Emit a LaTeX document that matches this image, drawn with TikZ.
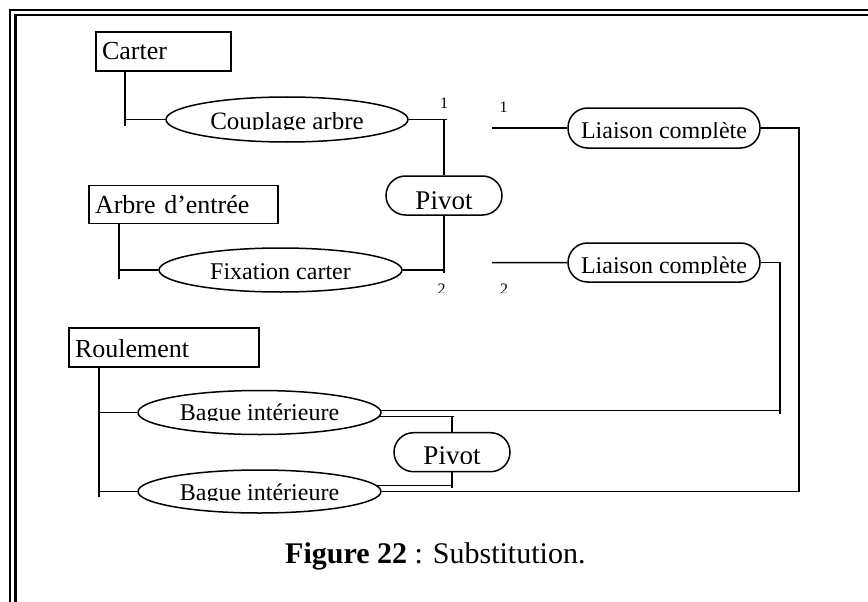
\documentclass[tikz,border=0pt]{standalone}
\usepackage{fontspec}
\setmainfont{Liberation Serif}
\usepackage{trimclip}
\usetikzlibrary{shapes.geometric}
% cut the descenders off a label, as the text boxes of the drawing do
\newcommand\cutdesc[1]{\clipbox{0pt {\depth} 0pt 0pt}{#1}}
% cut a label a little above its baseline
\newcommand\cutlow[1]{\clipbox{0pt 1.5pt 0pt 0pt}{#1}}
\newcommand\fs[1]{\fontsize{#1}{#1}\selectfont}

\begin{document}
\begin{tikzpicture}[x=1pt,y=-1pt,
  frame/.style={line width=2.4pt},
  wire/.style={line width=1.5pt},
  partbox/.style={rectangle, draw, line width=1.5pt, inner xsep=6pt, inner ysep=0pt,
                  align=left, text depth=0pt, font=\fs{26}},
  surf/.style={ellipse, draw, line width=1.5pt, inner sep=0pt, text depth=0pt, font=\fs{24}},
  link/.style={rectangle, rounded corners=19.5pt, draw, line width=1.5pt, inner sep=0pt,
               text depth=0pt, font=\fs{24}},
  num/.style={anchor=base, inner sep=0pt, font=\fs{16}}]

\useasboundingbox (0,0) rectangle (868,602);

% double frame, open at right and bottom
\draw[frame] (10,602) -- (10,10) -- (868,10);
\draw[frame] (15.3,602) -- (15.3,15.3) -- (868,15.3);

% parts
\node[partbox, minimum width=135pt, minimum height=39pt, text width=123pt, text height=17pt]
  (carter) at (163.5,51.5) {Carter};
\node[partbox, minimum width=189pt, minimum height=38pt, text width=177pt, text height=17pt]
  (arbre) at (183.5,204.5) {Arbre d’entrée};
\node[partbox, minimum width=190pt, minimum height=39pt, text width=178pt, text height=19pt]
  (roulement) at (164,347.5) {Roulement};

% functional surfaces
\node[surf, font=\fs{25}, minimum width=242pt, minimum height=45pt, text height=20pt]
  (couplage) at (287,119.5) {\cutdesc{Couplage arbre}};
\node[surf, minimum width=243pt, minimum height=44pt, text height=18.6pt]
  (fixation) at (280.5,270) {\cutdesc{Fixation carter}};
\node[surf, minimum width=243pt, minimum height=44pt, text height=15pt]
  (bague1) at (259.5,412.5) {\cutdesc{Bague intérieure}};
\node[surf, minimum width=243pt, minimum height=43pt, text height=17pt]
  (bague2) at (259.5,491.5) {\cutdesc{Bague intérieure}};

% links
\node[link, font=\fs{27}, minimum width=116pt, minimum height=39pt, text height=25.6pt]
  (pivot1) at (444,195.5) {\cutlow{Pivot}};
\node[link, font=\fs{27}, minimum width=116pt, minimum height=39pt, text height=22.2pt]
  (pivot2) at (452,452.2) {\cutlow{Pivot}};
\node[link, minimum width=192pt, minimum height=40pt, text height=22pt]
  (liaison1) at (664,128) {\cutdesc{Liaison complète}};
\node[link, minimum width=192pt, minimum height=39pt, text height=21.6pt]
  (liaison2) at (664,262.5) {\cutdesc{Liaison complète}};

% trees from each part to its surfaces
\coordinate (tc) at (125,126);
\draw[wire] (carter.south -| tc) -- (tc);
\draw[wire] (couplage.west) -- (couplage.west -| tc);

\coordinate (ta) at (119,279);
\draw[wire] (arbre.south -| ta) -- (ta);
\draw[wire] (fixation.west) -- (fixation.west -| ta);

\coordinate (tr) at (99,497);
\draw[wire] (roulement.south -| tr) -- (tr);
\draw[wire] (bague1.west) -- (bague1.west -| tr);
\draw[wire] (bague2.west) -- (bague2.west -| tr);

% upper pivot between the two surfaces
\draw[wire] (couplage.east) -- ([xshift=3pt]pivot1.north |- couplage.east);
\draw[wire] (pivot1.north) -- (pivot1.north |- couplage.east);
\draw[wire] (fixation.east) -- (pivot1.south |- fixation.east);
\draw[wire] (pivot1.south) -- ([yshift=-3pt]pivot1.south |- fixation.east);

% numbering
\node[num] (n1a) at (444,108) {1};
\node[num] (n1b) at (503.7,113) {1};
\begin{scope}
  \clip (420,270) rectangle (530,292.5);
  \node[num] (n2a) at (441.5,294) {2};
  \node[num] (n2b) at (504,294) {2};
\end{scope}

% complete links
\coordinate (l1s) at (492,128);
\coordinate (l2s) at (492,262.7);
\draw[wire] (l1s) -- (liaison1.west);
\draw[wire] (l2s) -- (liaison2.west);

\coordinate (r1) at (799,0);
\draw[wire] (liaison1.east) -| (r1 |- bague2.east) -- (bague2.east);

\coordinate (r2) at (780,414);
\draw[wire] (liaison2.east) -| (r2);
\draw[wire] (bague1.1.5) -- (r2 |- bague1.1.5);

% lower pivot between the two rings
\draw[wire] (bague1.-2.9) -- ([xshift=1.5pt]pivot2.north |- bague1.-2.9);
\draw[wire] (pivot2.north) -- (pivot2.north |- bague1.-2.9);
\draw[wire] (bague2.3.7) -- (pivot2.south |- bague2.3.7);
\draw[wire] (pivot2.south) -- ([yshift=-2.7pt]pivot2.south |- bague2.3.7);

% caption
\node[anchor=base west, inner sep=0pt, font=\fs{30}] (caption) at (285,563)
  {\textbf{Figure 22} : Substitution.};
\end{tikzpicture}
\end{document}
